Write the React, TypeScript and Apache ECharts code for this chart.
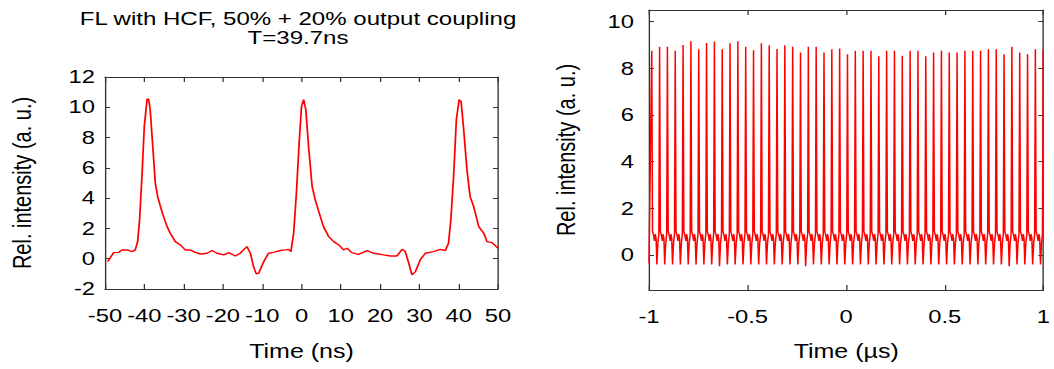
import React, { useEffect, useRef } from "react";
import * as echarts from "echarts";

// ---- Left panel: single-shot trace, time in ns ----
const leftTime = [
  -49.3, -47.8, -46.5, -45.7, -44.4, -43.1, -42.3, -41.7, -41.2, -40.6, -40.0, -39.3, -38.9, -38.5,
  -37.9, -37.2, -36.6, -35.9, -35.1, -34.2, -33.4, -32.1, -30.8, -29.6, -28.3, -27.0, -25.7, -24.0,
  -22.8, -21.5, -19.8, -18.5, -16.8, -15.6, -13.9, -13.0, -12.2, -11.5, -10.9, -9.6, -8.4, -7.1,
  -5.4, -4.1, -3.3, -2.7, -2.0, -1.3, -0.6, 0.0, 0.55, 1.1, 1.8, 2.7, 3.5, 4.4, 5.6, 6.9, 8.2,
  9.5, 10.7, 11.6, 12.8, 14.5, 16.7, 18.4, 20.9, 22.6, 24.3, 25.6, 26.4, 27.3, 28.1, 29.0, 30.2,
  31.5, 33.6, 35.3, 36.6, 37.4, 38.0, 38.7, 39.4, 40.1, 40.6, 41.2, 42.1, 42.9, 43.8, 45.1, 46.4,
  47.2, 48.5, 50.0,
];
const leftIntensity = [
  -0.19, 0.4, 0.42, 0.58, 0.58, 0.47, 0.58, 1.13, 2.56, 5.43, 8.74, 10.54, 10.54, 9.84,
  7.63, 4.99, 4.1, 3.45, 2.78, 2.12, 1.68, 1.13, 0.91, 0.58, 0.58, 0.42, 0.31, 0.36,
  0.54, 0.36, 0.25, 0.4, 0.18, 0.36, 0.8, 0.36, -0.52, -1.0, -0.96, -0.19, 0.36, 0.42,
  0.54, 0.58, 0.62, 0.47, 1.68, 4.33, 7.63, 10.06, 10.5, 9.84, 7.41, 4.77, 3.89, 3.11, 2.12, 1.46, 1.13,
  0.91, 0.58, 0.69, 0.4, 0.29, 0.54, 0.36, 0.25, 0.18, 0.18, 0.62, 0.47, -0.3, -1.07, -0.85, -0.08,
  0.36, 0.47, 0.62, 0.54, 1.02, 2.56, 5.43, 9.18, 10.5, 10.39, 8.74, 5.87, 4.1, 3.45, 2.12, 1.68,
  1.13, 1.06, 0.69,
];

// ---- Right panel: pulse train, time in µs ----
const trainStartValue = -0.35;
const firstPeakNs = -986;
const periodNs = 39.7;
const peakHeights = [
  8.75, 8.92, 8.92, 8.75, 9.0, 9.16, 8.82, 9.09, 9.15, 8.82, 9.08, 9.16, 8.92, 8.78, 9.08, 8.99, 8.83,
  8.99, 8.92, 8.68, 8.92, 8.92, 8.68, 8.82, 8.85, 8.6, 8.75, 8.75, 8.75, 8.52, 8.75, 8.75, 8.54, 8.75,
  8.75, 8.52, 8.68, 8.75, 8.68, 8.68, 8.75, 8.75, 8.75, 8.82, 8.82, 8.6, 8.92, 8.68, 8.6, 8.82, 8.82,
];
const dipDepths = [
  -0.41, -0.41, -0.41, -0.41, -0.41, -0.41, -0.41, -0.41, -0.48, -0.41, -0.41, -0.41, -0.41, -0.41,
  -0.41, -0.41, -0.41, -0.41, -0.41, -0.48, -0.41, -0.41, -0.41, -0.41, -0.41, -0.41, -0.41, -0.41,
  -0.41, -0.41, -0.41, -0.41, -0.41, -0.41, -0.41, -0.41, -0.41, -0.41, -0.41, -0.41, -0.41, -0.41,
  -0.41, -0.41, -0.41, -0.48, -0.41, -0.41, -0.41, -0.41, -0.41,
];
// shape after each peak (ns after peak, value); the dip slot uses dipDepths
const tailOffsetsNs = [4, 9, 14, 18, 22, 26, 31, 36];
const tailValues = [1.0, 0.85, 0.6, 0.9, 0.7, null, 0.5, 0.9];

const leftYTicks = [-2, 0, 2, 4, 6, 8, 10, 12];
const rightYTicks = [0, 2, 4, 6, 8, 10];

const FONT = "Liberation Sans";
const RED = "#ff0000";
const FRAME = "#333333";
// the reference's glyphs are horizontally wide; the chart is drawn narrower and stretched
const SX = 1.25;
const PAGE_W = 1054;
const PAGE_H = 369;
const px = (v: number) => v / SX;

function buildRight(): number[][] {
  const pts: number[][] = [[-1, trainStartValue]];
  peakHeights.forEach((h, i) => {
    const tp = firstPeakNs + i * periodNs;
    pts.push([tp / 1000, h]);
    tailOffsetsNs.forEach((o, k) => {
      const t = tp + o;
      if (t > 1000) return;
      const v = tailValues[k] === null ? dipDepths[i] : (tailValues[k] as number);
      pts.push([t / 1000, v]);
    });
  });
  return pts;
}

export default function App() {
  const ref = useRef<HTMLDivElement>(null);
  useEffect(() => {
    if (!ref.current) return;
    const chart = echarts.init(ref.current, null, { renderer: "svg" });
    const leftData = leftTime.map((t, i) => [t, leftIntensity[i]]);
    const rightData = buildRight();

    const xTick = { show: true, inside: true, length: 5, lineStyle: { color: FRAME, width: 1 } };
    const yTick = { show: true, inside: true, length: 4, lineStyle: { color: FRAME, width: 1 } };
    const line = { show: true, onZero: false, lineStyle: { color: FRAME, width: 1.1 } };
    const lbl = { color: "#000", fontFamily: FONT, fontSize: 19 };
    const nameStyle = { color: "#000", fontFamily: FONT, fontSize: 20 };
    const titleStyle = {
      fontFamily: FONT,
      fontSize: 18.5,
      fill: "#000",
      textAlign: "center",
      textVerticalAlign: "middle",
    };

    chart.setOption({
      animation: false,
      backgroundColor: "#fff",
      graphic: [
        {
          type: "text",
          x: px(298),
          y: 18.5,
          scaleX: 1.04,
          style: { ...titleStyle, text: "FL with HCF, 50% + 20% output coupling" },
        },
        {
          type: "text",
          x: px(298),
          y: 37.5,
          scaleX: 1.04,
          style: { ...titleStyle, text: "T=39.7ns" },
        },
      ],
      grid: [
        { left: px(105), top: 77, width: px(393), height: 212 },
        { left: px(649), top: 10, width: px(395), height: 280 },
      ],
      xAxis: [
        {
          gridIndex: 0, type: "value", min: -50, max: 50, interval: 10, position: "bottom",
          axisLine: line, axisTick: xTick, splitLine: { show: false },
          axisLabel: { ...lbl, margin: 17, showMinLabel: true, showMaxLabel: true },
          name: "Time (ns)", nameLocation: "middle", nameGap: 52, nameTextStyle: nameStyle,
        },
        {
          gridIndex: 0, type: "value", min: -50, max: 50, interval: 10, position: "top",
          axisLine: line, axisTick: xTick, splitLine: { show: false }, axisLabel: { show: false },
        },
        {
          gridIndex: 1, type: "value", min: -1, max: 1, interval: 0.5, position: "bottom",
          axisLine: line, axisTick: xTick, splitLine: { show: false },
          axisLabel: { ...lbl, margin: 17, showMinLabel: true, showMaxLabel: true },
          name: "Time (\u00b5s)", nameLocation: "middle", nameGap: 51, nameTextStyle: nameStyle,
        },
        {
          gridIndex: 1, type: "value", min: -1, max: 1, interval: 0.5, position: "top",
          axisLine: line, axisTick: xTick, splitLine: { show: false }, axisLabel: { show: false },
        },
      ],
      yAxis: [
        {
          gridIndex: 0, type: "value", min: -2, max: 12, interval: 2, position: "left",
          axisLine: line, axisTick: { ...yTick, customValues: leftYTicks }, splitLine: { show: false },
          axisLabel: { ...lbl, margin: px(10), customValues: leftYTicks },
          name: "Rel. intensity (a. u.)", nameLocation: "middle", nameGap: 56, nameTextStyle: nameStyle,
        },
        {
          gridIndex: 0, type: "value", min: -2, max: 12, interval: 2, position: "right",
          axisLine: line, axisTick: { ...yTick, customValues: leftYTicks }, splitLine: { show: false },
          axisLabel: { show: false },
        },
        {
          gridIndex: 1, type: "value", min: -1.5, max: 10.5, position: "left",
          axisLine: line, axisTick: { ...yTick, customValues: rightYTicks }, splitLine: { show: false },
          axisLabel: { ...lbl, margin: px(15), customValues: rightYTicks },
          name: "Rel. intensity (a. u.)", nameLocation: "middle", nameGap: 56, nameTextStyle: nameStyle,
        },
        {
          gridIndex: 1, type: "value", min: -1.5, max: 10.5, position: "right",
          axisLine: line, axisTick: { ...yTick, customValues: rightYTicks }, splitLine: { show: false },
          axisLabel: { show: false },
        },
      ],
      series: [
        {
          type: "line", xAxisIndex: 0, yAxisIndex: 0, data: leftData, showSymbol: false,
          lineStyle: { color: RED, width: 1.4 }, itemStyle: { color: RED },
        },
        {
          type: "line", xAxisIndex: 2, yAxisIndex: 2, data: rightData, showSymbol: false,
          lineStyle: { color: RED, width: 1.2 }, itemStyle: { color: RED },
        },
      ],
    });
    return () => chart.dispose();
  }, []);
  return (
    <div
      style={{ position: "fixed", left: 0, top: 0, width: PAGE_W, height: PAGE_H, background: "#fff", overflow: "hidden" }}
    >
      <div
        ref={ref}
        style={{
          width: PAGE_W / SX,
          height: PAGE_H,
          transform: `scaleX(${SX})`,
          transformOrigin: "left top",
        }}
      />
    </div>
  );
}
